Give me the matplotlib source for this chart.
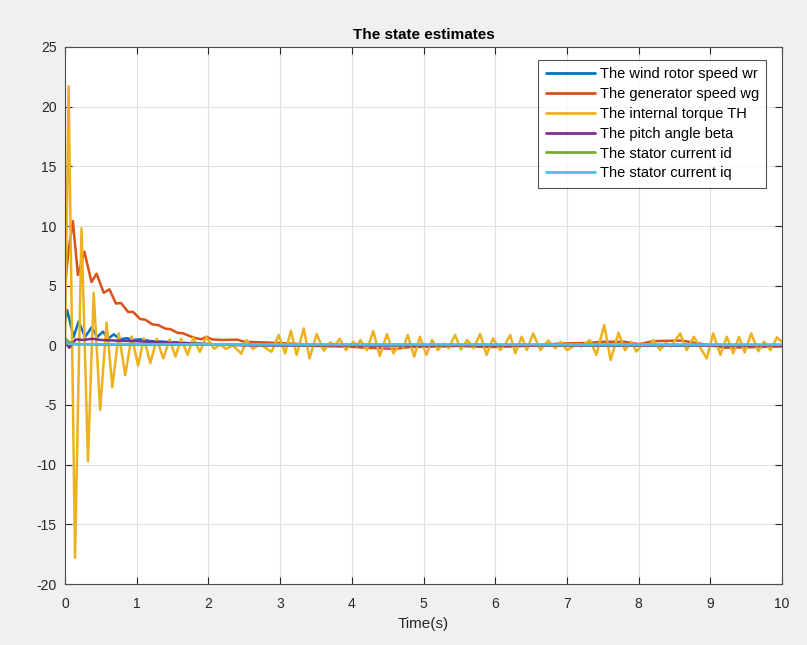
import numpy as np
import matplotlib
matplotlib.use('Agg')
import matplotlib.pyplot as plt

plt.rcParams['font.family'] = ['Liberation Sans', 'DejaVu Sans']
plt.rcParams['axes.unicode_minus'] = False

# wind rotor speed wr
t_wr = [0, 0.03, 0.12, 0.19, 0.28, 0.37, 0.45, 0.53, 0.60, 0.68, 0.77, 0.86, 0.95, 1.05, 1.2, 1.4, 1.7, 2.0, 2.5, 3.0, 10.0]
v_wr = [2.0, 2.95, 0.7, 2.0, 0.7, 1.5, 0.7, 1.15, 0.55, 0.92, 0.5, 0.6, 0.45, 0.5, 0.35, 0.3, 0.2, 0.1, 0.05, 0.0, 0.0]

# generator speed wg
t_wg = [0, 0.05, 0.11, 0.18, 0.27, 0.37, 0.44, 0.54, 0.62, 0.71, 0.78, 0.88, 0.95, 1.05, 1.12, 1.22, 1.30,
        1.40, 1.47, 1.57, 1.65, 1.75, 1.83, 1.90, 1.97, 2.05, 2.2, 2.4, 2.5, 2.9, 3.3, 3.5, 3.9, 4.2, 4.6,
        4.8, 5.2, 5.5, 5.9, 6.2, 6.6, 6.9, 7.3, 7.5, 7.8, 8.0, 8.2, 8.6, 8.9, 9.2, 9.6, 10.0]
v_wg = [5.0, 8.0, 10.4, 5.9, 7.85, 5.3, 6.0, 4.4, 4.7, 3.5, 3.55, 2.8, 2.8, 2.2, 2.15, 1.75, 1.7,
        1.4, 1.35, 1.05, 1.0, 0.75, 0.6, 0.5, 0.72, 0.5, 0.45, 0.48, 0.3, 0.22, 0.1, -0.05, -0.1, -0.2, -0.3,
        -0.15, -0.1, -0.05, -0.15, -0.1, 0.0, 0.15, 0.2, 0.3, 0.3, 0.1, 0.35, 0.4, 0.1, -0.2, -0.15, -0.1]

# internal torque TH
t_th = [0, 0.05, 0.14, 0.23, 0.32, 0.40, 0.49, 0.58, 0.66, 0.75, 0.84, 0.93, 1.02, 1.10, 1.19, 1.28,
        1.37, 1.46, 1.54, 1.62, 1.71, 1.79, 1.88, 1.97, 2.08, 2.16, 2.25, 2.34, 2.46, 2.53, 2.62, 2.72,
        2.88, 2.98, 3.07, 3.15, 3.23, 3.33, 3.41, 3.51, 3.61, 3.70, 3.76, 3.83, 3.92, 4.02, 4.07, 4.12,
        4.21, 4.30, 4.39, 4.49, 4.58, 4.67, 4.72, 4.78, 4.87, 4.95, 5.04, 5.12, 5.20, 5.28, 5.35, 5.44,
        5.52, 5.61, 5.70, 5.79, 5.88, 5.97, 6.07, 6.14, 6.21, 6.28, 6.37, 6.44, 6.53, 6.63, 6.74, 6.84,
        6.91, 7.00, 7.14, 7.20, 7.32, 7.41, 7.52, 7.61, 7.72, 7.81, 7.90, 7.97, 8.06, 8.13, 8.21, 8.30,
        8.38, 8.45, 8.58, 8.67, 8.77, 8.95, 9.04, 9.14, 9.23, 9.32, 9.40, 9.48, 9.57, 9.67, 9.75, 9.84,
        9.93, 10.0]
v_th = [0.0, 21.7, -17.8, 9.8, -9.7, 4.4, -5.4, 1.9, -3.5, 1.0, -2.5, 0.75, -1.7, 0.6, -1.5, 0.55,
        -1.1, 0.5, -0.95, 0.55, -0.8, 0.65, -0.55, 0.7, -0.3, 0.05, -0.3, 0.0, -0.7, 0.45, -0.3, 0.1,
        -0.55, 0.87, -0.67, 1.23, -0.8, 1.42, -1.1, 0.95, -0.45, 0.25, -0.05, 0.55, -0.4, 0.3, -0.1, 0.45,
        -0.4, 1.2, -0.9, 0.95, -0.67, 0.1, -0.2, 0.87, -0.95, 0.72, -0.8, 0.45, -0.4, 0.15, -0.25, 0.87,
        -0.35, 0.45, -0.25, 0.95, -0.8, 0.58, -0.4, 0.1, 0.87, -0.67, 0.72, -0.4, 1.0, -0.4, 0.4, -0.25,
        0.3, -0.4, 0.1, -0.1, 0.45, -0.8, 1.7, -1.23, 1.06, -0.4, 0.3, -0.53, 0.15, -0.1, 0.45, -0.4,
        0.2, -0.1, 1.0, -0.4, 0.72, -1.1, 1.0, -0.8, 0.72, -0.67, 0.72, -0.6, 1.0, -0.5, 0.3, -0.4,
        0.67, 0.3]

# pitch angle beta
t_beta = [0, 0.06, 0.15, 0.25, 0.38, 0.5, 0.7, 1.0, 1.5, 2.0, 2.5, 10.0]
v_beta = [0.3, -0.2, 0.5, 0.45, 0.55, 0.45, 0.4, 0.35, 0.2, 0.1, 0.0, 0.0]

# stator currents
t_id = [0, 0.05, 0.15, 0.5, 10.0]
v_id = [0.6, 0.3, 0.1, 0.05, 0.05]
t_iq = [0, 0.05, 1.0, 10.0]
v_iq = [0.25, 0.1, 0.1, 0.05]

labels = ['The wind rotor speed wr', 'The generator speed wg', 'The internal torque TH',
          'The pitch angle beta', 'The stator current id', 'The stator current iq']
colors = ['#0072BD', '#D95319', '#EDB120', '#7E2F8E', '#77AC30', '#4DBEEE']
series = [(t_wr, v_wr), (t_wg, v_wg), (t_th, v_th), (t_beta, v_beta), (t_id, v_id), (t_iq, v_iq)]

fig = plt.figure(figsize=(8.07, 6.45), dpi=100, facecolor='#f0f0f0')
ax = fig.add_axes([65 / 807, 61 / 645, 717 / 807, 537 / 645])
ax.set_facecolor('white')

for (t, v), c, lab in zip(series, colors, labels):
    ax.plot(t, v, color=c, linewidth=1.8, label=lab,
            solid_joinstyle='round', solid_capstyle='round')

ax.set_xlim(0, 10)
ax.set_ylim(-20, 25)
ax.set_xticks(np.arange(0, 11, 1))
ax.set_yticks(np.arange(-20, 26, 5))
ax.grid(True, color='#e0e0e0', linewidth=0.8)
ax.set_axisbelow(True)
ax.tick_params(direction='in', length=5, width=0.8, top=True, right=True,
               labelsize=10, colors='#262626')
ax.tick_params(axis='x', pad=9)
ax.tick_params(axis='y', pad=6)
for s in ax.spines.values():
    s.set_color('#4d4d4d')
    s.set_linewidth(0.8)

ax.set_title('The state estimates', fontsize=11, fontweight='bold', color='black', pad=6)
ax.set_xlabel('Time(s)', fontsize=11, color='#262626', labelpad=5)

leg = ax.legend(loc='upper right', bbox_to_anchor=(0.978, 0.976), fontsize=10.5, frameon=True,
                fancybox=False, edgecolor='#262626', handlelength=3.4, borderpad=0.5,
                labelspacing=0.4, handletextpad=0.3, borderaxespad=0.0)
leg.get_frame().set_linewidth(0.8)
for line in leg.get_lines():
    line.set_linewidth(2.0)

fig.savefig('out.png', dpi=100, facecolor=fig.get_facecolor())
